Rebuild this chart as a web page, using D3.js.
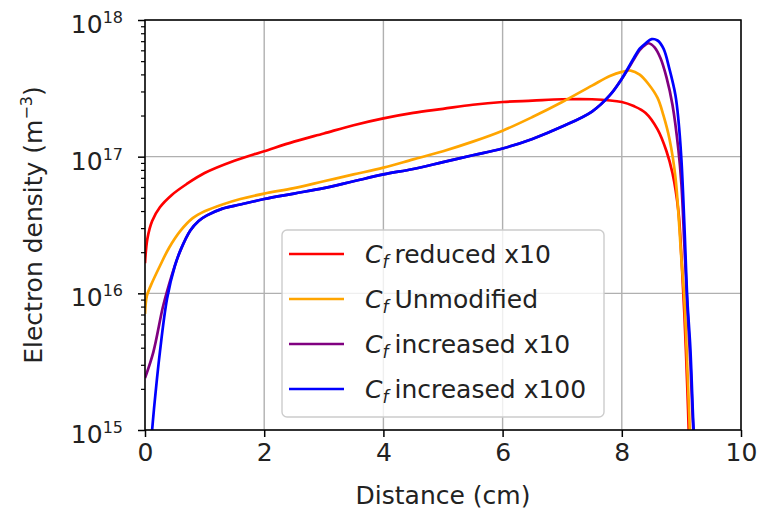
<!DOCTYPE html>
<html>
<head>
<meta charset="utf-8">
<script src="https://cdn.jsdelivr.net/npm/d3@7"></script>
<style>
  body { margin: 0; background: #fff; }
  svg { font-family: "DejaVu Sans", sans-serif; }
</style>
</head>
<body>
<script>
// values (x in cm, y as log10 of density in m^-3)
var redX = [0, 0.04, 0.12, 0.25, 0.45, 0.7, 1.0, 1.5, 2.0, 2.5, 3.0, 3.5, 4.0, 4.5, 5.0, 5.5, 6.0, 6.5, 7.0, 7.5, 8.0, 8.2, 8.4, 8.6, 8.75, 8.85, 8.95, 9.0, 9.05, 9.1, 9.13];
var redLog = [16.22, 16.40, 16.53, 16.63, 16.72, 16.80, 16.88, 16.97, 17.04, 17.11, 17.17, 17.23, 17.28, 17.32, 17.35, 17.38, 17.40, 17.41, 17.42, 17.42, 17.40, 17.37, 17.32, 17.20, 17.04, 16.88, 16.60, 16.27, 15.85, 15.30, 14.90];

var orangeX = [0, 0.03, 0.1, 0.25, 0.4, 0.6, 0.8, 1.0, 1.3, 1.6, 2.0, 2.5, 3.0, 3.5, 4.0, 4.5, 5.0, 5.5, 6.0, 6.5, 7.0, 7.5, 7.8, 8.0, 8.15, 8.3, 8.45, 8.6, 8.7, 8.8, 8.9, 9.0, 9.05, 9.1, 9.15];
var orangeLog = [15.85, 15.98, 16.06, 16.20, 16.33, 16.46, 16.55, 16.60, 16.65, 16.69, 16.73, 16.77, 16.82, 16.87, 16.92, 16.98, 17.04, 17.11, 17.19, 17.29, 17.40, 17.52, 17.59, 17.62, 17.63, 17.60, 17.53, 17.43, 17.30, 17.13, 16.85, 16.25, 15.95, 15.45, 14.90];

var purpleX = [0, 0.14, 0.3, 0.4, 0.5, 0.6, 0.76, 0.9, 1.04, 1.3, 1.6, 2.0, 2.5, 3.0, 3.5, 4.0, 4.5, 5.0, 5.5, 6.0, 6.5, 7.0, 7.5, 7.8, 8.0, 8.2, 8.3, 8.4, 8.45, 8.55, 8.65, 8.75, 8.85, 8.95, 9.0, 9.05, 9.1, 9.15, 9.2, 9.22];
var purpleLog = [15.38, 15.57, 15.90, 16.06, 16.2, 16.32, 16.46, 16.53, 16.57, 16.62, 16.65, 16.69, 16.73, 16.77, 16.82, 16.87, 16.91, 16.96, 17.01, 17.06, 17.13, 17.22, 17.33, 17.45, 17.57, 17.71, 17.78, 17.82, 17.83, 17.80, 17.72, 17.58, 17.38, 17.05, 16.80, 16.35, 15.90, 15.50, 15.00, 14.90];

var blueX = [0.1, 0.15, 0.25, 0.37, 0.5, 0.6, 0.76, 0.9, 1.04, 1.3, 1.6, 2.0, 2.5, 3.0, 3.5, 4.0, 4.5, 5.0, 5.5, 6.0, 6.5, 7.0, 7.5, 7.8, 8.0, 8.2, 8.3, 8.4, 8.5, 8.6, 8.7, 8.8, 8.9, 8.95, 9.0, 9.05, 9.1, 9.15, 9.2, 9.22];
var blueLog = [14.9, 15.15, 15.57, 15.96, 16.2, 16.32, 16.46, 16.53, 16.57, 16.62, 16.65, 16.69, 16.73, 16.77, 16.82, 16.87, 16.91, 16.96, 17.01, 17.06, 17.13, 17.22, 17.33, 17.45, 17.57, 17.72, 17.79, 17.83, 17.86, 17.85, 17.79, 17.64, 17.45, 17.27, 16.98, 16.50, 15.95, 15.60, 15.05, 14.90];

var legendLabels = ["reduced x10", "Unmodified", "increased x10", "increased x100"];
var xTicks = [0, 2, 4, 6, 8, 10];
var yTicks = [1e15, 1e16, 1e17, 1e18];

var series = [
    { name: legendLabels[0], color: "#ff0000", x: redX, y: redLog },
    { name: legendLabels[1], color: "#ffa500", x: orangeX, y: orangeLog },
    { name: legendLabels[2], color: "#800080", x: purpleX, y: purpleLog },
    { name: legendLabels[3], color: "#0000ff", x: blueX, y: blueLog }
];

var width = 759, height = 511;
var pLeft = 145, pRight = 741, pTop = 20, pBottom = 430;
var fontSize = 25;

var svg = d3.select("body").append("svg")
    .attr("width", width)
    .attr("height", height);

var x = d3.scaleLinear().domain([0, 10]).range([pLeft, pRight]);
var y = d3.scaleLog().domain([1e15, 1e18]).range([pBottom, pTop]);

svg.append("defs").append("clipPath")
    .attr("id", "plot-clip")
    .append("rect")
    .attr("x", pLeft).attr("y", pTop)
    .attr("width", pRight - pLeft).attr("height", pBottom - pTop);

// grid
var grid = svg.append("g").attr("class", "grid");
grid.selectAll("line.vx")
    .data(xTicks)
    .enter().append("line")
    .attr("x1", function (d) { return x(d); })
    .attr("x2", function (d) { return x(d); })
    .attr("y1", pTop).attr("y2", pBottom)
    .style("stroke", "#b0b0b0")
    .style("stroke-width", 1.4);
grid.selectAll("line.hy")
    .data(yTicks)
    .enter().append("line")
    .attr("x1", pLeft).attr("x2", pRight)
    .attr("y1", function (d) { return y(d); })
    .attr("y2", function (d) { return y(d); })
    .style("stroke", "#b0b0b0")
    .style("stroke-width", 1.4);

// curves
var line = d3.line()
    .x(function (d) { return x(d[0]); })
    .y(function (d) { return y(d[1]); })
    .curve(d3.curveCatmullRom.alpha(0.5));

svg.append("g")
    .attr("clip-path", "url(#plot-clip)")
    .selectAll("path")
    .data(series)
    .enter().append("path")
    .attr("d", function (s) {
        return line(s.x.map(function (v, i) { return [v, Math.pow(10, s.y[i])]; }));
    })
    .style("fill", "none")
    .style("stroke", function (s) { return s.color; })
    .style("stroke-width", 2.7)
    .style("stroke-linejoin", "round");

// frame
svg.append("rect")
    .attr("x", pLeft).attr("y", pTop)
    .attr("width", pRight - pLeft).attr("height", pBottom - pTop)
    .style("fill", "none")
    .style("stroke", "#000")
    .style("stroke-width", 1.5);

// x axis
var xAxis = d3.axisBottom(x)
    .tickValues(xTicks)
    .tickFormat(d3.format("d"))
    .tickSize(7)
    .tickPadding(6);
var gx = svg.append("g")
    .attr("transform", "translate(0," + pBottom + ")")
    .call(xAxis);
gx.select(".domain").remove();
gx.selectAll(".tick line").style("stroke", "#000").style("stroke-width", 1.5);
gx.selectAll(".tick text")
    .style("font-size", fontSize + "px")
    .style("font-family", "DejaVu Sans")
    .style("fill", "#222");

// y axis: minor ticks
var minor = [];
for (var e = 15; e < 18; e++) {
    for (var m = 2; m <= 9; m++) minor.push(m * Math.pow(10, e));
}
var yMinor = d3.axisLeft(y).tickValues(minor).tickFormat("").tickSize(4);
var gym = svg.append("g")
    .attr("transform", "translate(" + pLeft + ",0)")
    .call(yMinor);
gym.select(".domain").remove();
gym.selectAll(".tick line").style("stroke", "#000").style("stroke-width", 1.2);

var yAxis = d3.axisLeft(y).tickValues(yTicks).tickFormat("").tickSize(7);
var gy = svg.append("g")
    .attr("transform", "translate(" + pLeft + ",0)")
    .call(yAxis);
gy.select(".domain").remove();
gy.selectAll(".tick line").style("stroke", "#000").style("stroke-width", 1.5);

// y tick labels 10^n
var yLab = svg.append("g").selectAll("text")
    .data(yTicks)
    .enter().append("text")
    .attr("x", pLeft - 22)
    .attr("y", function (d) { return y(d) + 13; })
    .attr("text-anchor", "end")
    .style("font-size", fontSize + "px")
    .style("fill", "#222");
yLab.append("tspan").text("10");
yLab.append("tspan")
    .attr("dy", -10)
    .style("font-size", "16px")
    .text(function (d) { return Math.round(Math.log10(d)); });

// axis titles
svg.append("text")
    .attr("x", (pLeft + pRight) / 2)
    .attr("y", 504)
    .attr("text-anchor", "middle")
    .style("font-size", fontSize + "px")
    .style("fill", "#222")
    .text("Distance (cm)");

var yt = svg.append("text")
    .attr("transform", "translate(42," + ((pTop + pBottom) / 2) + ") rotate(-90)")
    .attr("text-anchor", "middle")
    .style("font-size", fontSize + "px")
    .style("fill", "#222");
yt.append("tspan").text("Electron density (m");
yt.append("tspan").attr("dy", -10).style("font-size", "16px").text("\u22123");
yt.append("tspan").attr("dy", 10).text(")");

// legend
var lg = svg.append("g");
lg.append("rect")
    .attr("x", 282).attr("y", 230)
    .attr("width", 322).attr("height", 187)
    .attr("rx", 5)
    .style("fill", "#fff")
    .style("fill-opacity", 0.8)
    .style("stroke", "#cccccc")
    .style("stroke-width", 1.4);

var rows = lg.selectAll("g.row")
    .data(series)
    .enter().append("g")
    .attr("transform", function (d, i) { return "translate(0," + (254 + i * 45) + ")"; });
rows.append("line")
    .attr("x1", 289).attr("x2", 344)
    .style("stroke", function (d) { return d.color; })
    .style("stroke-width", 2.7);
var lt = rows.append("text")
    .attr("x", 365)
    .attr("y", 9)
    .style("font-size", fontSize + "px")
    .style("fill", "#222");
lt.append("tspan").style("font-style", "italic").text("C");
lt.append("tspan").attr("dy", 5).style("font-style", "italic").style("font-size", "17px").text("f");
lt.append("tspan").attr("dy", -5).attr("dx", 6).text(function (d) { return d.name; });
</script>
</body>
</html>
